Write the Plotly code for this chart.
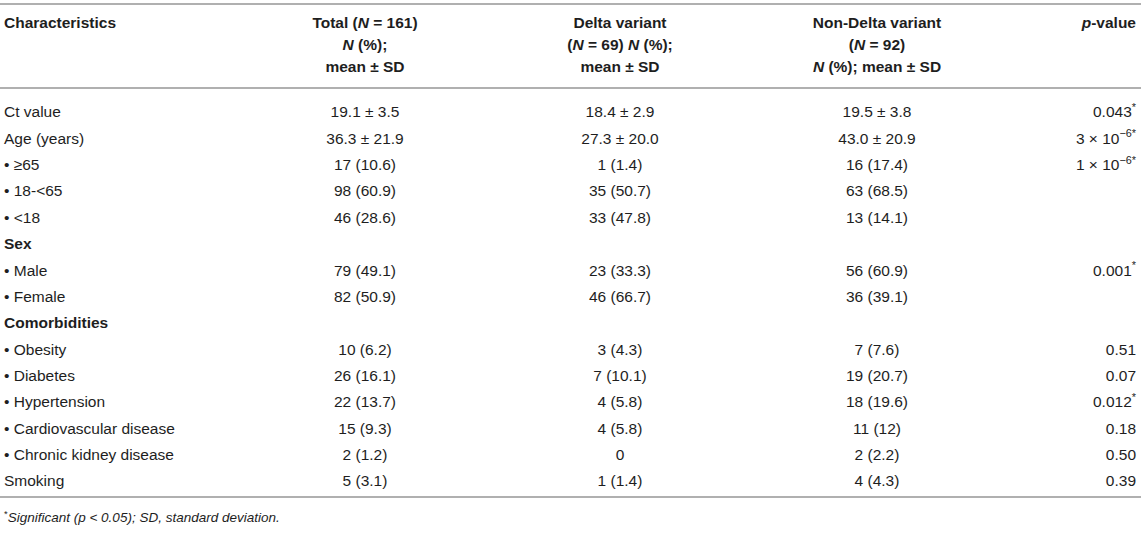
import plotly.graph_objects as go

# --- Table data ---
characteristics = [
    "Ct value", "Age (years)", "• ≥65", "• 18-&lt;65", "• &lt;18",
    "Sex", "• Male", "• Female",
    "Comorbidities", "• Obesity", "• Diabetes", "• Hypertension",
    "• Cardiovascular disease", "• Chronic kidney disease", "Smoking",
]
section_rows = ["Sex", "Comorbidities"]

total = ["19.1 ± 3.5", "36.3 ± 21.9", "17 (10.6)", "98 (60.9)", "46 (28.6)",
         "", "79 (49.1)", "82 (50.9)",
         "", "10 (6.2)", "26 (16.1)", "22 (13.7)", "15 (9.3)", "2 (1.2)", "5 (3.1)"]
delta = ["18.4 ± 2.9", "27.3 ± 20.0", "1 (1.4)", "35 (50.7)", "33 (47.8)",
         "", "23 (33.3)", "46 (66.7)",
         "", "3 (4.3)", "7 (10.1)", "4 (5.8)", "4 (5.8)", "0", "1 (1.4)"]
non_delta = ["19.5 ± 3.8", "43.0 ± 20.9", "16 (17.4)", "63 (68.5)", "13 (14.1)",
             "", "56 (60.9)", "36 (39.1)",
             "", "7 (7.6)", "19 (20.7)", "18 (19.6)", "11 (12)", "2 (2.2)", "4 (4.3)"]
p_value = ["0.043<sup>*</sup>", "3 × 10<sup>−6*</sup>", "1 × 10<sup>−6*</sup>", "", "",
           "", "0.001<sup>*</sup>", "",
           "", "0.51", "0.07", "0.012<sup>*</sup>", "0.18", "0.50", "0.39"]

header_char = ["Characteristics"]
header_total = ["Total (<i>N</i> = 161)", "<i>N</i> (%);", "mean ± SD"]
header_delta = ["Delta variant", "(<i>N</i> = 69) <i>N</i> (%);", "mean ± SD"]
header_non_delta = ["Non-Delta variant", "(<i>N</i> = 92)", "<i>N</i> (%); mean ± SD"]
header_p = ["<i>p</i>-value"]

footnote = "<sup>*</sup><i>Significant (p &lt; 0.05); SD, standard deviation.</i>"

# --- Layout (axes in pixel units of the picture) ---
W, H = 1145, 533
FONT = "Liberation Sans, Arial, Helvetica, sans-serif"
FS = 15.5
TXT = "#1e1e1e"
RULE = "#b0b0b0"
x_char, x_total, x_delta, x_non, x_p = 4, 365, 620, 877, 1136
row_y = [113.5 + i * 26.36 for i in range(len(characteristics))]
head_y = [24, 46, 68]

fig = go.Figure()


def add_col(x, y, labels, pos, bold=False, size=FS):
    pts = [(yy, t) for yy, t in zip(y, labels) if t]
    txt = [f"<b>{t}</b>" if bold else t for _, t in pts]
    fig.add_trace(go.Scatter(
        x=[x] * len(pts), y=[p[0] for p in pts], text=txt, mode="text",
        textposition=pos, hoverinfo="skip", showlegend=False,
        textfont=dict(family=FONT, size=size, color=TXT),
    ))


# header
add_col(x_char, head_y, header_char, "middle right", bold=True)
add_col(x_total, head_y, header_total, "middle center", bold=True)
add_col(x_delta, head_y, header_delta, "middle center", bold=True)
add_col(x_non, head_y, header_non_delta, "middle center", bold=True)
add_col(x_p, head_y, header_p, "middle left", bold=True)

# body
char_txt = [f"<b>{c}</b>" if c in section_rows else c for c in characteristics]
add_col(x_char, row_y, char_txt, "middle right")
add_col(x_total, row_y, total, "middle center")
add_col(x_delta, row_y, delta, "middle center")
add_col(x_non, row_y, non_delta, "middle center")
add_col(x_p, row_y, p_value, "middle left")

# footnote
add_col(x_char, [519], [footnote], "middle right", size=13.5)

# rules
for yy in [4, 88, 497]:
    fig.add_shape(type="line", x0=0, x1=1141, y0=yy, y1=yy,
                  line=dict(color=RULE, width=2))

fig.update_xaxes(range=[0, W], visible=False, fixedrange=True)
fig.update_yaxes(range=[H, 0], visible=False, fixedrange=True)
fig.update_layout(
    width=W, height=H,
    margin=dict(l=0, r=0, t=0, b=0),
    plot_bgcolor="white", paper_bgcolor="white",
)

fig.write_html("out.html", config={"displayModeBar": False},
               post_script="document.body.style.margin='0';")
